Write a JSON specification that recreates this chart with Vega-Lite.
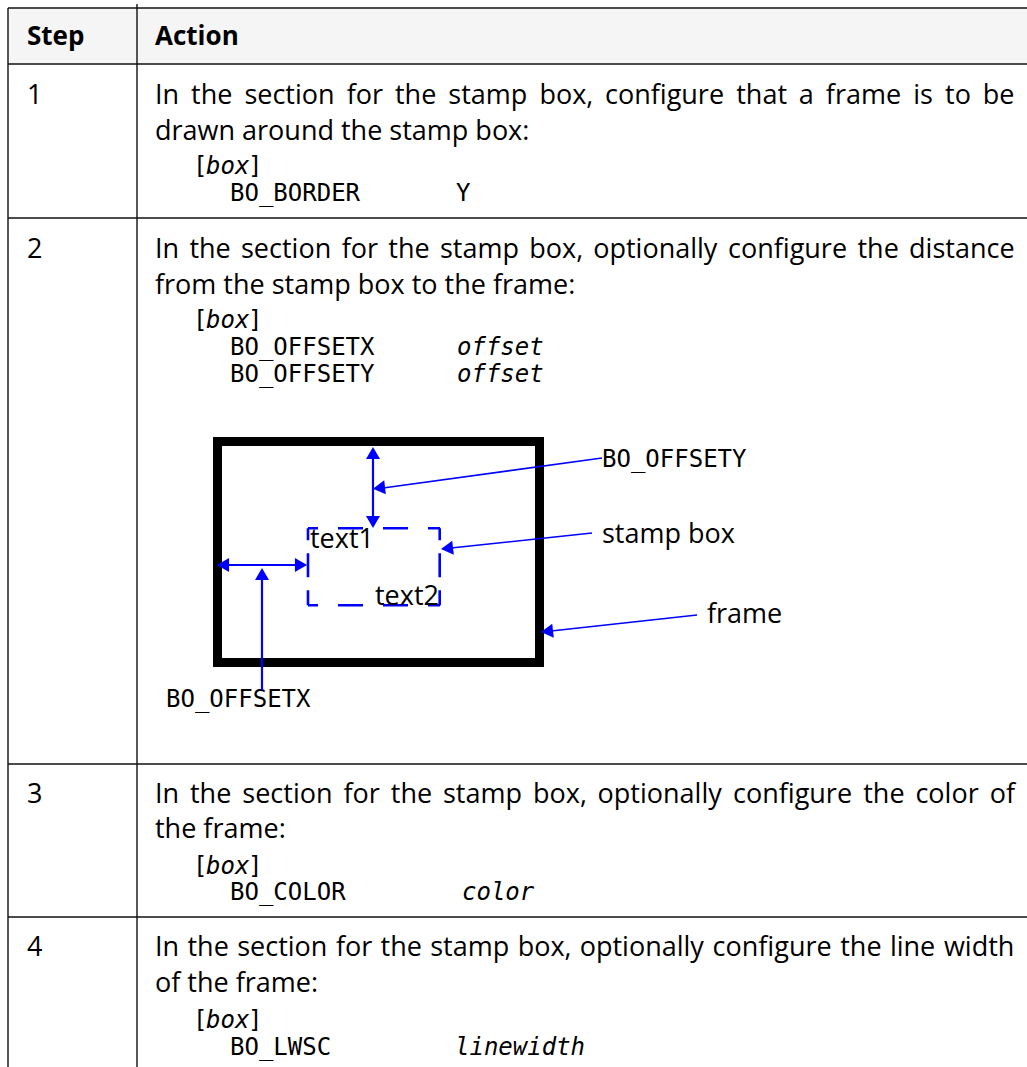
{
  "$schema": "https://vega.github.io/schema/vega-lite/v6.json",
  "width": 1027,
  "height": 1067,
  "padding": 0,
  "autosize": {"type": "none"},
  "background": "white",
  "config": {"view": {"stroke": null}},
  "datasets": {
    "header": [{"x": 8, "x2": 1027, "y": 8, "y2": 64}],
    "grid": [
      {"x": 8, "x2": 1027, "y": 8, "y2": 8},
      {"x": 8, "x2": 1027, "y": 64, "y2": 64},
      {"x": 8, "x2": 1027, "y": 218, "y2": 218},
      {"x": 8, "x2": 1027, "y": 764, "y2": 764},
      {"x": 8, "x2": 1027, "y": 917, "y2": 917},
      {"x": 8, "x2": 8, "y": 8, "y2": 1067},
      {"x": 137, "x2": 137, "y": 4, "y2": 1067}
    ],
    "frame": [{"x": 217.5, "x2": 539.5, "y": 441.5, "y2": 662.5}],
    "stampedges": [
      {"edge": "h", "x": 308, "x2": 440, "y": 528.3, "y2": 528.3},
      {"edge": "h", "x": 308, "x2": 440, "y": 605.3, "y2": 605.3},
      {"edge": "v", "x": 308, "x2": 308, "y": 528.3, "y2": 605.3},
      {"edge": "v", "x": 439.7, "x2": 439.7, "y": 528.3, "y2": 605.3}
    ],
    "shafts": [
      {"x": 373, "x2": 373, "y": 455, "y2": 520},
      {"x": 225, "x2": 300, "y": 565, "y2": 565},
      {"x": 262, "x2": 262, "y": 690, "y2": 578}
    ],
    "leaders": [
      {"x": 602, "x2": 383, "y": 458, "y2": 488},
      {"x": 592, "x2": 451, "y": 533, "y2": 548},
      {"x": 697, "x2": 551, "y": 615, "y2": 631}
    ],
    "heads": [
      {"dir": "up", "x": 373, "y": 453},
      {"dir": "down", "x": 373, "y": 522},
      {"dir": "left", "x": 223, "y": 565},
      {"dir": "right", "x": 301, "y": 565},
      {"dir": "up", "x": 262, "y": 574},
      {"dir": "slant", "x": 379, "y": 488},
      {"dir": "slant", "x": 447, "y": 548.4},
      {"dir": "slant", "x": 547, "y": 631.4}
    ],
    "texts": [
      {"kind": "head", "x": 27, "y": 45, "t": "Step"},
      {"kind": "head", "x": 155, "y": 45, "t": "Action"},
      {"kind": "body", "x": 27, "y": 104, "t": "1"},
      {"kind": "body", "x": 155, "y": 104, "t": "In"},
      {"kind": "body", "x": 191.1, "y": 104, "t": "the"},
      {"kind": "body", "x": 244.4, "y": 104, "t": "section"},
      {"kind": "body", "x": 346.7, "y": 104, "t": "for"},
      {"kind": "body", "x": 395.0, "y": 104, "t": "the"},
      {"kind": "body", "x": 448.3, "y": 104, "t": "stamp"},
      {"kind": "body", "x": 539.4, "y": 104, "t": "box,"},
      {"kind": "body", "x": 605.0, "y": 104, "t": "configure"},
      {"kind": "body", "x": 736.2, "y": 104, "t": "that"},
      {"kind": "body", "x": 798.8, "y": 104, "t": "a"},
      {"kind": "body", "x": 825.8, "y": 104, "t": "frame"},
      {"kind": "body", "x": 913.2, "y": 104, "t": "is"},
      {"kind": "body", "x": 945.1, "y": 104, "t": "to"},
      {"kind": "body", "x": 982.8, "y": 104, "t": "be"},
      {"kind": "body", "x": 155, "y": 140, "t": "drawn around the stamp box:"},
      {"kind": "code", "x": 193, "y": 174, "t": "["},
      {"kind": "codei", "x": 206, "y": 174, "t": "box"},
      {"kind": "code", "x": 248, "y": 174, "t": "]"},
      {"kind": "code", "x": 230, "y": 201, "t": "BO_BORDER"},
      {"kind": "code", "x": 456, "y": 201, "t": "Y"},
      {"kind": "body", "x": 27, "y": 258, "t": "2"},
      {"kind": "body", "x": 155, "y": 258, "t": "In"},
      {"kind": "body", "x": 189.4, "y": 258, "t": "the"},
      {"kind": "body", "x": 241.0, "y": 258, "t": "section"},
      {"kind": "body", "x": 341.7, "y": 258, "t": "for"},
      {"kind": "body", "x": 388.3, "y": 258, "t": "the"},
      {"kind": "body", "x": 439.9, "y": 258, "t": "stamp"},
      {"kind": "body", "x": 529.3, "y": 258, "t": "box,"},
      {"kind": "body", "x": 593.2, "y": 258, "t": "optionally"},
      {"kind": "body", "x": 728.0, "y": 258, "t": "configure"},
      {"kind": "body", "x": 857.5, "y": 258, "t": "the"},
      {"kind": "body", "x": 909.1, "y": 258, "t": "distance"},
      {"kind": "body", "x": 155, "y": 294, "t": "from the stamp box to the frame:"},
      {"kind": "code", "x": 193, "y": 328, "t": "["},
      {"kind": "codei", "x": 206, "y": 328, "t": "box"},
      {"kind": "code", "x": 248, "y": 328, "t": "]"},
      {"kind": "code", "x": 230, "y": 355, "t": "BO_OFFSETX"},
      {"kind": "codei", "x": 457, "y": 355, "t": "offset"},
      {"kind": "code", "x": 230, "y": 382, "t": "BO_OFFSETY"},
      {"kind": "codei", "x": 457, "y": 382, "t": "offset"},
      {"kind": "code", "x": 602, "y": 467, "t": "BO_OFFSETY"},
      {"kind": "body", "x": 602, "y": 543, "t": "stamp box"},
      {"kind": "body", "x": 707, "y": 623, "t": "frame"},
      {"kind": "body", "x": 310, "y": 548, "t": "text1"},
      {"kind": "body", "x": 375, "y": 605, "t": "text2"},
      {"kind": "code", "x": 166, "y": 707, "t": "BO_OFFSETX"},
      {"kind": "body", "x": 27, "y": 803, "t": "3"},
      {"kind": "body", "x": 155, "y": 803, "t": "In"},
      {"kind": "body", "x": 190.0, "y": 803, "t": "the"},
      {"kind": "body", "x": 242.3, "y": 803, "t": "section"},
      {"kind": "body", "x": 343.5, "y": 803, "t": "for"},
      {"kind": "body", "x": 390.8, "y": 803, "t": "the"},
      {"kind": "body", "x": 443.0, "y": 803, "t": "stamp"},
      {"kind": "body", "x": 533.0, "y": 803, "t": "box,"},
      {"kind": "body", "x": 597.6, "y": 803, "t": "optionally"},
      {"kind": "body", "x": 733.0, "y": 803, "t": "configure"},
      {"kind": "body", "x": 863.2, "y": 803, "t": "the"},
      {"kind": "body", "x": 915.4, "y": 803, "t": "color"},
      {"kind": "body", "x": 989.8, "y": 803, "t": "of"},
      {"kind": "body", "x": 155, "y": 838, "t": "the frame:"},
      {"kind": "code", "x": 193, "y": 874, "t": "["},
      {"kind": "codei", "x": 206, "y": 874, "t": "box"},
      {"kind": "code", "x": 248, "y": 874, "t": "]"},
      {"kind": "code", "x": 230, "y": 900, "t": "BO_COLOR"},
      {"kind": "codei", "x": 462, "y": 900, "t": "color"},
      {"kind": "body", "x": 27, "y": 956, "t": "4"},
      {"kind": "body", "x": 155, "y": 956, "t": "In"},
      {"kind": "body", "x": 187.5, "y": 956, "t": "the"},
      {"kind": "body", "x": 237.2, "y": 956, "t": "section"},
      {"kind": "body", "x": 335.9, "y": 956, "t": "for"},
      {"kind": "body", "x": 380.6, "y": 956, "t": "the"},
      {"kind": "body", "x": 430.2, "y": 956, "t": "stamp"},
      {"kind": "body", "x": 517.7, "y": 956, "t": "box,"},
      {"kind": "body", "x": 579.7, "y": 956, "t": "optionally"},
      {"kind": "body", "x": 712.6, "y": 956, "t": "configure"},
      {"kind": "body", "x": 840.2, "y": 956, "t": "the"},
      {"kind": "body", "x": 889.9, "y": 956, "t": "line"},
      {"kind": "body", "x": 943.9, "y": 956, "t": "width"},
      {"kind": "body", "x": 155, "y": 992, "t": "of the frame:"},
      {"kind": "code", "x": 193, "y": 1028, "t": "["},
      {"kind": "codei", "x": 206, "y": 1028, "t": "box"},
      {"kind": "code", "x": 248, "y": 1028, "t": "]"},
      {"kind": "code", "x": 230, "y": 1055, "t": "BO_LWSC"},
      {"kind": "codei", "x": 455, "y": 1055, "t": "linewidth"}
    ]
  },
  "encoding": {
    "x": {"field": "x", "type": "quantitative", "scale": {"domain": [0, 1027], "range": [0, 1027], "nice": false, "zero": false}, "axis": null},
    "y": {"field": "y", "type": "quantitative", "scale": {"domain": [0, 1067], "range": [0, 1067], "nice": false, "zero": false}, "axis": null}
  },
  "layer": [
    {
      "data": {"name": "header"},
      "mark": {"type": "rect", "fill": "#f5f5f5", "strokeWidth": 0},
      "encoding": {"x2": {"field": "x2"}, "y2": {"field": "y2"}}
    },
    {
      "data": {"name": "grid"},
      "mark": {"type": "rule", "stroke": "#111111", "strokeWidth": 1.4},
      "encoding": {"x2": {"field": "x2"}, "y2": {"field": "y2"}}
    },
    {
      "data": {"name": "frame"},
      "mark": {"type": "rect", "fill": null, "filled": false, "stroke": "black", "strokeWidth": 9, "opacity": 1},
      "encoding": {"x2": {"field": "x2"}, "y2": {"field": "y2"}}
    },
    {
      "data": {"name": "stampedges"},
      "transform": [{"filter": "datum.edge === 'h'"}],
      "mark": {"type": "rule", "stroke": "#0000ff", "strokeWidth": 2.6, "strokeDash": [25, 20], "strokeDashOffset": 15},
      "encoding": {"x2": {"field": "x2"}, "y2": {"field": "y2"}}
    },
    {
      "data": {"name": "stampedges"},
      "transform": [{"filter": "datum.edge === 'v'"}],
      "mark": {"type": "rule", "stroke": "#0000ff", "strokeWidth": 2.6, "strokeDash": [24, 13], "strokeDashOffset": 12},
      "encoding": {"x2": {"field": "x2"}, "y2": {"field": "y2"}}
    },
    {
      "data": {"name": "texts"},
      "transform": [{"filter": "datum.kind === 'head'"}],
      "mark": {"type": "text", "align": "left", "baseline": "alphabetic", "font": "Open Sans", "fontSize": 26, "fontWeight": "bold", "color": "black"},
      "encoding": {"text": {"field": "t"}}
    },
    {
      "data": {"name": "texts"},
      "transform": [{"filter": "datum.kind === 'body'"}],
      "mark": {"type": "text", "align": "left", "baseline": "alphabetic", "font": "Open Sans", "fontSize": 27, "color": "black"},
      "encoding": {"text": {"field": "t"}}
    },
    {
      "data": {"name": "texts"},
      "transform": [{"filter": "datum.kind === 'code'"}],
      "mark": {"type": "text", "align": "left", "baseline": "alphabetic", "font": "DejaVu Sans Mono", "fontSize": 24, "color": "black"},
      "encoding": {"text": {"field": "t"}}
    },
    {
      "data": {"name": "texts"},
      "transform": [{"filter": "datum.kind === 'codei'"}],
      "mark": {"type": "text", "align": "left", "baseline": "alphabetic", "font": "DejaVu Sans Mono", "fontSize": 24, "fontStyle": "italic", "color": "black"},
      "encoding": {"text": {"field": "t"}}
    },
    {
      "data": {"name": "shafts"},
      "mark": {"type": "rule", "stroke": "#0000ff", "strokeWidth": 2.2},
      "encoding": {"x2": {"field": "x2"}, "y2": {"field": "y2"}}
    },
    {
      "data": {"name": "leaders"},
      "mark": {"type": "rule", "stroke": "#0000ff", "strokeWidth": 1.6},
      "encoding": {"x2": {"field": "x2"}, "y2": {"field": "y2"}}
    },
    {
      "data": {"name": "heads"},
      "transform": [{"filter": "datum.dir === 'up'"}],
      "mark": {"type": "point", "shape": "triangle-up", "filled": true, "color": "#0000ff", "size": 196, "opacity": 1, "strokeWidth": 0}
    },
    {
      "data": {"name": "heads"},
      "transform": [{"filter": "datum.dir === 'down'"}],
      "mark": {"type": "point", "shape": "triangle-down", "filled": true, "color": "#0000ff", "size": 196, "opacity": 1, "strokeWidth": 0}
    },
    {
      "data": {"name": "heads"},
      "transform": [{"filter": "datum.dir === 'left'"}],
      "mark": {"type": "point", "shape": "triangle-left", "filled": true, "color": "#0000ff", "size": 196, "opacity": 1, "strokeWidth": 0}
    },
    {
      "data": {"name": "heads"},
      "transform": [{"filter": "datum.dir === 'right'"}],
      "mark": {"type": "point", "shape": "triangle-right", "filled": true, "color": "#0000ff", "size": 196, "opacity": 1, "strokeWidth": 0}
    },
    {
      "data": {"name": "heads"},
      "transform": [{"filter": "datum.dir === 'slant'"}],
      "mark": {"type": "point", "shape": "triangle-left", "angle": 353.5, "filled": true, "color": "#0000ff", "size": 196, "opacity": 1, "strokeWidth": 0}
    }
  ]
}
